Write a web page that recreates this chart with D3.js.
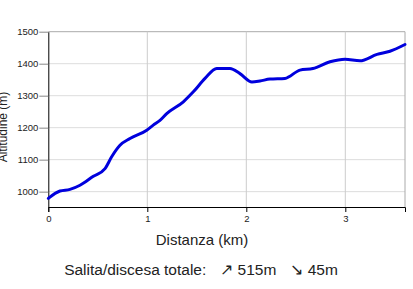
<!DOCTYPE html>
<html>
<head>
<meta charset="utf-8">
<script src="https://cdn.jsdelivr.net/npm/d3@7"></script>
<style>
  body { margin: 0; background: #fff; }
  svg { font-family: Arial, "Liberation Sans", sans-serif; }
</style>
</head>
<body>
<div class="wrapper"></div>
<script>
// elevation profile

var distKm = [0, 0.118, 0.219, 0.32, 0.455, 0.573, 0.64, 0.724, 0.825, 0.994,
              1.06, 1.128, 1.196, 1.364, 1.465, 1.583, 1.701, 1.835, 1.936, 2.057,
              2.138, 2.239, 2.39, 2.542, 2.673, 2.845, 2.997, 3.148, 3.32, 3.451, 3.603];
var elevM = [979, 1002, 1007, 1020, 1048, 1072, 1109, 1145, 1166, 1192,
             1208, 1223, 1244, 1281, 1312, 1354, 1385, 1385, 1369, 1343,
             1346, 1352, 1354, 1380, 1385, 1406, 1414, 1409, 1429, 1439, 1460];
var xTicks = [0, 1, 2, 3];
var yTicks = [1000, 1100, 1200, 1300, 1400, 1500];
var xTitle = "Distanza (km)";
var yTitle = "Altitudine (m)";
var summaryLabel = "Salita/discesa totale:";
var totalUp = "515m";
var totalDown = "45m";

var svgWidth = 413;
var svgHeight = 289;
var plotLeft = 48.3, plotRight = 405, plotTop = 31.7, plotBottom = 207;

var svg = d3.select(".wrapper").append("svg")
    .attr("width", svgWidth)
    .attr("height", svgHeight);

var x = d3.scaleLinear().domain([0, d3.max(distKm)]).range([plotLeft, plotRight]);
var y = d3.scaleLinear().domain([952, 1500]).range([plotBottom, plotTop]);

// grid lines
svg.append("g")
    .selectAll("line")
    .data(yTicks)
    .enter()
    .append("line")
    .attr("x1", plotLeft)
    .attr("x2", plotRight)
    .attr("y1", function(d) { return y(d); })
    .attr("y2", function(d) { return y(d); })
    .attr("stroke", function(d) { return d === 1500 ? "#aaa" : "#ddd"; })
    .attr("stroke-width", 1);

svg.append("g")
    .selectAll("line")
    .data(xTicks.slice(1))
    .enter()
    .append("line")
    .attr("x1", function(d) { return x(d); })
    .attr("x2", function(d) { return x(d); })
    .attr("y1", plotTop)
    .attr("y2", plotBottom)
    .attr("stroke", "#ccc")
    .attr("stroke-width", 1);

// right border
svg.append("line")
    .attr("x1", plotRight).attr("x2", plotRight)
    .attr("y1", plotTop).attr("y2", plotBottom)
    .attr("stroke", "#aaa");

// axes
var xAxis = svg.append("g")
    .attr("transform", "translate(0," + plotBottom + ")")
    .call(d3.axisBottom(x).tickValues(xTicks).tickSize(5).tickSizeOuter(5).tickFormat(d3.format("d")));
var yAxis = svg.append("g")
    .attr("transform", "translate(" + plotLeft + ",0)")
    .call(d3.axisLeft(y).tickValues(yTicks).tickSize(9).tickSizeOuter(0).tickFormat(d3.format("d")));

[xAxis, yAxis].forEach(function(a) {
    a.selectAll("text").attr("font-size", "9.5px").attr("fill", "#222")
        .attr("font-family", "Arial, 'Liberation Sans', sans-serif");
    a.select(".domain").attr("stroke", "#000");
});
yAxis.selectAll(".tick line").attr("stroke", "#888");
yAxis.selectAll("text").attr("x", -10);
xAxis.selectAll("text").attr("y", 8);

// profile line
var line = d3.line()
    .x(function(d, i) { return x(distKm[i]); })
    .y(function(d) { return y(d); })
    .curve(d3.curveMonotoneX);

svg.append("path")
    .datum(elevM)
    .attr("d", line)
    .attr("fill", "none")
    .attr("stroke", "#0000dd")
    .attr("stroke-width", 3)
    .attr("stroke-linejoin", "round")
    .attr("stroke-linecap", "round");

// titles
svg.append("text")
    .attr("x", 202)
    .attr("y", 245)
    .attr("text-anchor", "middle")
    .attr("font-size", "15px")
    .attr("fill", "#222")
    .text(xTitle);

svg.append("text")
    .attr("transform", "rotate(-90)")
    .attr("x", -127)
    .attr("y", 7)
    .attr("text-anchor", "middle")
    .attr("font-size", "12px")
    .attr("fill", "#222")
    .text(yTitle);

var summary = svg.append("text")
    .attr("x", 201)
    .attr("y", 275)
    .attr("text-anchor", "middle")
    .attr("font-size", "15.5px")
    .attr("fill", "#222");
summary.append("tspan").text(summaryLabel);
summary.append("tspan").attr("dx", 14).text("\u2197 " + totalUp);
summary.append("tspan").attr("dx", 14).text("\u2198 " + totalDown);
</script>
</body>
</html>
